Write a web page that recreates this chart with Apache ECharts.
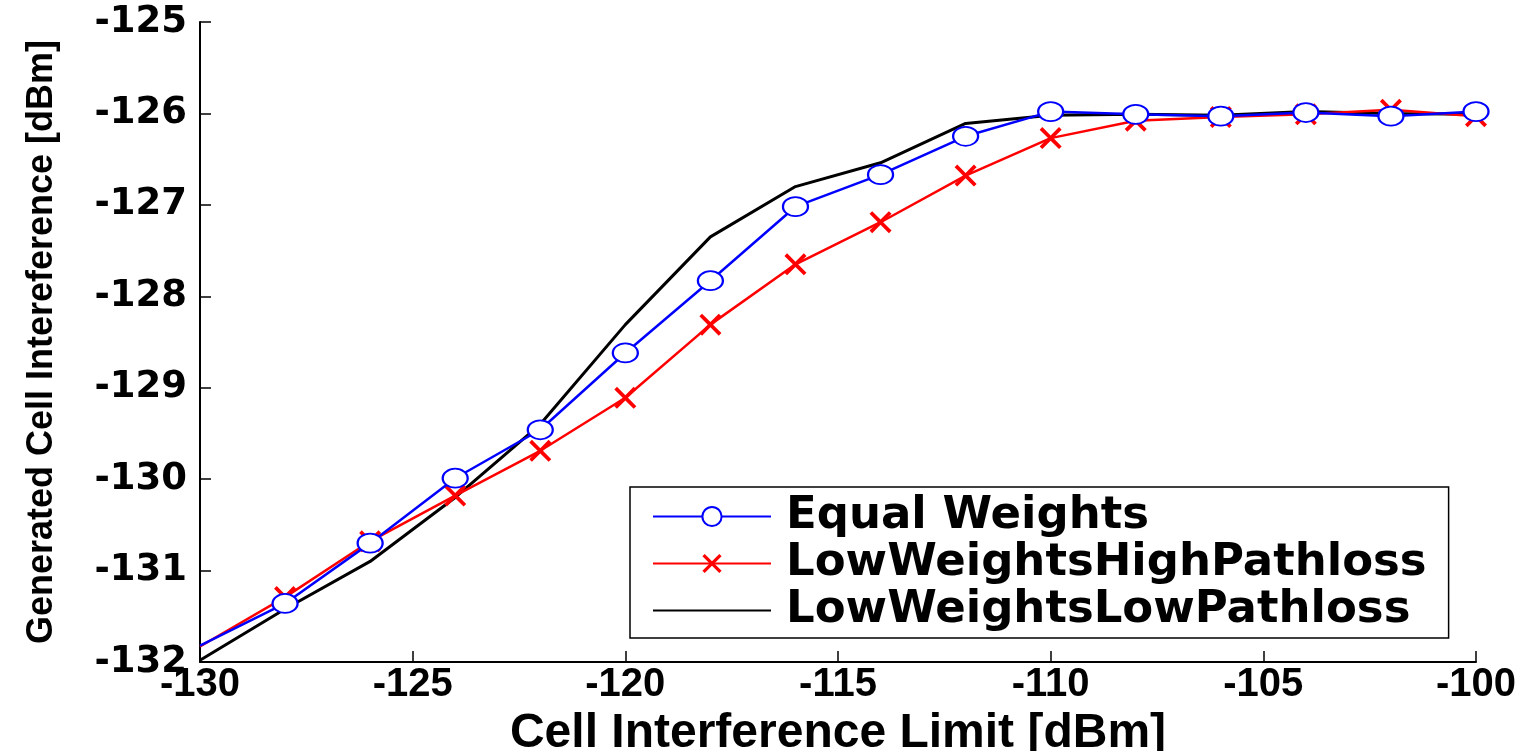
<!DOCTYPE html>
<html>
<head>
<meta charset="utf-8">
<script src="https://cdn.jsdelivr.net/npm/echarts@6/dist/echarts.min.js"></script>
<style>html,body{margin:0;padding:0;background:#fff}#chart{width:1521px;height:751px}</style>
</head>
<body>
<div id="chart"></div>
<script>
const xValues = [-130, -128, -126, -124, -122, -120, -118, -116, -114, -112, -110, -108, -106, -104, -102, -100];
const equalWeights = [-131.82, -131.36, -130.70, -129.99, -129.46, -128.62, -127.83, -127.02, -126.67, -126.25, -125.98, -126.01, -126.03, -125.99, -126.03, -125.98];
const lowWeightsHighPathloss = [-131.83, -131.29, -130.68, -130.18, -129.69, -129.11, -128.31, -127.65, -127.19, -126.68, -126.27, -126.08, -126.04, -126.01, -125.96, -126.03];
const lowWeightsLowPathloss = [-131.98, -131.42, -130.90, -130.20, -129.40, -128.31, -127.35, -126.80, -126.54, -126.11, -126.02, -126.01, -126.02, -125.98, -126.00, -126.01];
const seriesNames = ['Equal Weights', 'LowWeightsHighPathloss', 'LowWeightsLowPathloss'];
const xTitle = 'Cell Interference Limit [dBm]';
const yTitle = 'Generated Cell Intereference [dBm]';

const crossPath = 'path://M0,1.2L1.2,0L5,3.8L8.8,0L10,1.2L6.2,5L10,8.8L8.8,10L5,6.2L1.2,10L0,8.8L3.8,5Z';
function pairs(arr, skipFirstSymbol) {
  return xValues.map((x, i) => {
    const item = { value: [x, arr[i]] };
    if (skipFirstSymbol && i === 0) item.symbol = 'none';
    return item;
  });
}

const chart = echarts.init(document.getElementById('chart'));
chart.setOption({
  backgroundColor: '#fff',
  animation: false,
  grid: { left: 200, right: 45, top: 22, bottom: 89, containLabel: false, outerBoundsMode: 'none' },
  xAxis: {
    type: 'value', min: -130, max: -100, interval: 5,
    name: xTitle, nameLocation: 'middle', nameGap: 36,
    nameTextStyle: { fontFamily: 'Liberation Sans', fontWeight: 'bold', fontSize: 48, color: '#000' },
    axisLine: { show: true, lineStyle: { color: '#000', width: 2 } },
    axisTick: { show: true, inside: true, length: 11, lineStyle: { color: '#000', width: 1.5 } },
    axisLabel: { fontFamily: 'Liberation Sans', fontWeight: 'bold', fontSize: 40, color: '#000', margin: 3 },
    splitLine: { show: false }
  },
  yAxis: {
    type: 'value', min: -132, max: -125, interval: 1,
    name: yTitle, nameLocation: 'middle', nameGap: 140, nameRotate: 90,
    nameTextStyle: { fontFamily: 'Liberation Sans', fontWeight: 'bold', fontSize: 36, color: '#000' },
    axisLine: { show: true, lineStyle: { color: '#000', width: 2 } },
    axisTick: { show: true, inside: true, length: 11, lineStyle: { color: '#000', width: 1.5 } },
    axisLabel: { fontFamily: 'DejaVu Sans', fontWeight: 'bold', fontSize: 37, color: '#000', margin: 13 },
    splitLine: { show: false }
  },
  legend: {
    orient: 'vertical', left: 630, top: 487,
    data: [
      { name: seriesNames[0] },
      { name: seriesNames[1] },
      { name: seriesNames[2], itemStyle: { opacity: 0 } }
    ],
    backgroundColor: '#fff', borderColor: '#000', borderWidth: 1.5,
    padding: [6, 22, 4, 22],
    itemWidth: 118, itemHeight: 24, itemGap: 0,
    textStyle: { fontFamily: 'DejaVu Sans', fontWeight: 'bold', fontSize: 45, lineHeight: 47, color: '#000', padding: [0, 0, 0, 10] }
  },
  series: [
    {
      name: seriesNames[2], type: 'line', data: pairs(lowWeightsLowPathloss, false),
      showSymbol: false, symbol: 'none', z: 2,
      lineStyle: { color: '#000', width: 3 }, itemStyle: { color: '#000' }
    },
    {
      name: seriesNames[1], type: 'line', data: pairs(lowWeightsHighPathloss, true),
      symbol: crossPath, symbolSize: 22, z: 3,
      lineStyle: { color: '#ff0000', width: 2.5 }, itemStyle: { color: '#ff0000' }
    },
    {
      name: seriesNames[0], type: 'line', data: pairs(equalWeights, true),
      symbol: 'emptyCircle', symbolSize: [25, 19], z: 4,
      lineStyle: { color: '#0000ff', width: 2.5 }, itemStyle: { color: '#0000ff', borderColor: '#0000ff', borderWidth: 3 }
    }
  ]
});
</script>
</body>
</html>
